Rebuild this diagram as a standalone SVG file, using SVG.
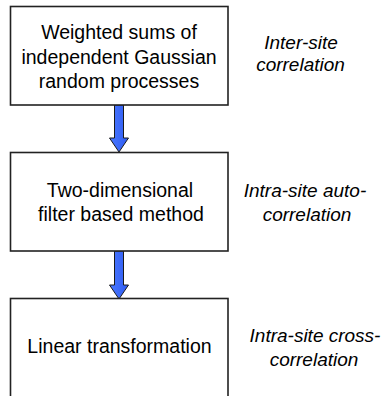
<svg xmlns="http://www.w3.org/2000/svg" width="382" height="396" viewBox="0 0 382 396">
  <defs>
    <linearGradient id="arrowFill" x1="0" y1="0" x2="1" y2="0">
      <stop offset="0" stop-color="#4a78ff"/>
      <stop offset="1" stop-color="#2f5cf2"/>
    </linearGradient>
    <style>
      .box { fill: #ffffff; stroke: #222222; stroke-width: 1.6; }
      .main { font-family: "Liberation Sans", Arial, sans-serif; font-size: 19.5px; fill: #000000; text-anchor: middle; }
      .note { font-family: "Liberation Sans", Arial, sans-serif; font-size: 19px; font-style: italic; fill: #000000; text-anchor: middle; }
      .arrow { fill: url(#arrowFill); stroke: #1a1a1a; stroke-width: 1; stroke-linejoin: miter; }
    </style>
  </defs>
  <rect width="382" height="396" fill="#ffffff"/>

  <g id="connectors">
    <polygon class="arrow" points="114.5,105 123.5,105 123.5,138 128.5,138 119,152 109.5,138 114.5,138"/>
    <polygon class="arrow" points="114.5,251 123.5,251 123.5,285 128.5,285 119,299 109.5,285 114.5,285"/>
  </g>

  <g id="node-weighted-sums">
    <rect class="box" x="10.5" y="6.5" width="217.5" height="98.5"/>
    <text class="main" x="119" y="39">Weighted sums of</text>
    <text class="main" x="119" y="63.5">independent Gaussian</text>
    <text class="main" x="119" y="88">random processes</text>
  </g>

  <g id="node-2d-filter">
    <rect class="box" x="10.5" y="152.5" width="217.5" height="98.5"/>
    <text class="main" x="120" y="197">Two-dimensional</text>
    <text class="main" x="121" y="221">filter based method</text>
  </g>

  <g id="node-linear-transform">
    <rect class="box" x="10.5" y="298.5" width="217.5" height="110"/>
    <text class="main" x="119.5" y="353">Linear transformation</text>
  </g>

  <g id="label-inter-site">
    <text class="note" x="301" y="49">Inter-site</text>
    <text class="note" x="300.5" y="71">correlation</text>
  </g>

  <g id="label-intra-auto">
    <text class="note" x="305" y="197">Intra-site auto-</text>
    <text class="note" x="307" y="221">correlation</text>
  </g>

  <g id="label-intra-cross">
    <text class="note" x="315" y="342">Intra-site cross-</text>
    <text class="note" x="314" y="366">correlation</text>
  </g>
</svg>
